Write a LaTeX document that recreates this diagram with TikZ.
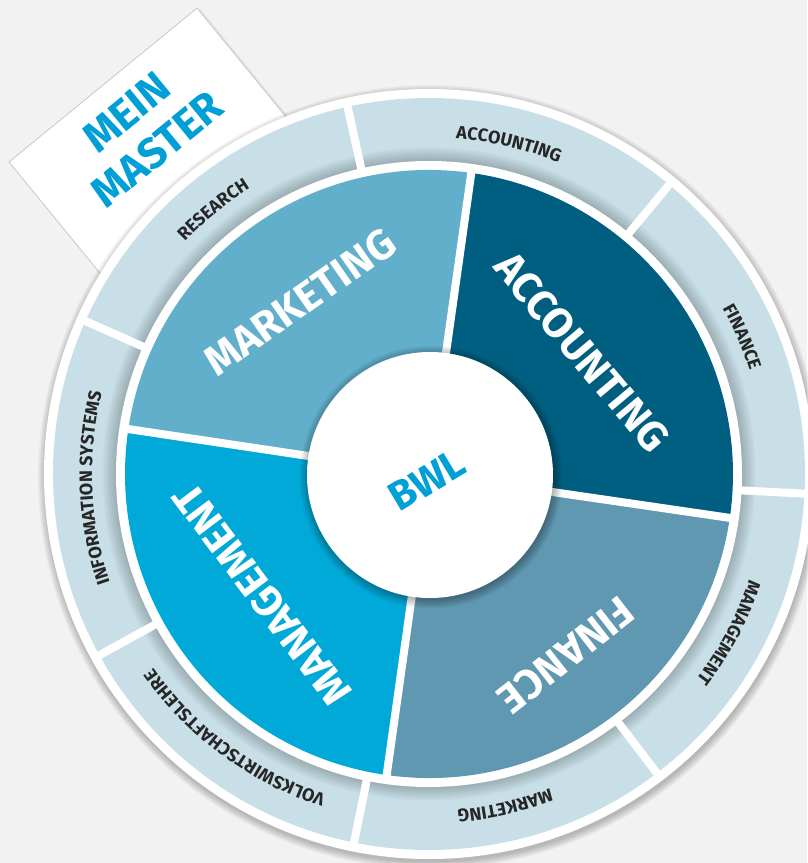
\documentclass[tikz,border=0pt]{standalone}
\usepackage{fontspec}
\setmainfont{Fira Sans}
\usetikzlibrary{decorations.text}
\definecolor{bgc}{HTML}{F2F2F2}
\definecolor{ringc}{HTML}{C8DFE7}
\definecolor{mktc}{HTML}{62AFCB}
\definecolor{accc}{HTML}{005F80}
\definecolor{finc}{HTML}{6097B1}
\definecolor{mgmc}{HTML}{00A9D8}
\definecolor{cyant}{HTML}{00A0D6}
\definecolor{lblc}{HTML}{262626}
\newcommand\lblfont{\fontsize{18}{20}\selectfont\bfseries}
\newcommand\arclabel[3]{\path[decorate,decoration={text along path,text align=center,text color=lblc,text={|\lblfont|#3}}] (#1:337) arc[start angle=#1,end angle=#2,radius=337];}
\begin{document}
\begin{tikzpicture}[x=1pt,y=1pt,
  bigl/.style={text=white,font=\fontsize{42}{48}\selectfont\bfseries,inner sep=0pt},
  divline/.style={white,line width=8pt}]
\useasboundingbox (-429,-389) rectangle (378,474);
\fill[bgc] (-429,-389) rectangle (378,474);
% card
\begin{scope}[shift={(-420,312)},rotate=39.3]
  \fill[black,opacity=0.06] (1,-2) rectangle (245,-200);
  \fill[white] (0,0) rectangle (243,-200);
  \draw[black!22,line width=0.8pt] (0,-200) -- (0,0) -- (243,0) -- (243,-200);
\end{scope}
\node[align=center,text=cyant,font=\fontsize{43}{48}\selectfont\bfseries,rotate=39.3,inner sep=0pt] (mm) at (-287,343) {MEIN\\MASTER};
% wheel shadow
\foreach \k in {0,...,7} \fill[black,opacity=0.03] (1,-3) circle (385+\k);
\fill[white] (0,0) circle (385);
\fill[ringc] (0,0) circle (376);
\foreach \k in {0,...,9} \fill[black,opacity=0.025] (0,0) circle (313+\k*1.5);
% ring dividers
\foreach \a in {102.5,50.3,-3,-52.7,-101.5,-151.2,156} \draw[divline] (\a:305) -- (\a:378);
% ring labels
\arclabel{156}{102.5}{RESEARCH}
\arclabel{102.5}{50.3}{ACCOUNTING}
\arclabel{50.3}{-3}{FINANCE}
\arclabel{-3}{-52.7}{MANAGEMENT}
\arclabel{-52.7}{-101.5}{MARKETING}
\arclabel{-101.5}{-151.2}{VOLKSWIRTSCHAFTSLEHRE}
\arclabel{-151.2}{-204}{INFORMATION SYSTEMS}
% inner disk
\fill[white] (0,0) circle (313);
\fill[accc] (0,0) -- (-8.3:304) arc[start angle=-8.3,end angle=82,radius=304] -- cycle;
\fill[mktc] (0,0) -- (82:304) arc[start angle=82,end angle=171.5,radius=304] -- cycle;
\fill[mgmc] (0,0) -- (171.5:304) arc[start angle=171.5,end angle=262,radius=304] -- cycle;
\fill[finc] (0,0) -- (262:304) arc[start angle=262,end angle=351.7,radius=304] -- cycle;
\foreach \a in {82,-8.3,262,171.5} \draw[divline] (0,0) -- (\a:309);
% center circle
\foreach \k in {0,...,7} \fill[black,opacity=0.04] (2,-3) circle (123+\k*1.2);
\fill[white] (1,-1) circle (123);
\node[text=cyant,font=\fontsize{41}{44}\selectfont\bfseries,rotate=31,inner sep=0pt] (bwl) at (-2,-6) {BWL};
% quadrant labels
\node[bigl,rotate=35] (mkt) at (-129,172) {MARKETING};
\node[bigl,rotate=-50] (acc) at (153,122) {ACCOUNTING};
\node[bigl,rotate=127] (mgm) at (-167,-121) {MANAGEMENT};
\node[bigl,rotate=218] (fin) at (137,-181) {FINANCE};
\end{tikzpicture}
\end{document}
